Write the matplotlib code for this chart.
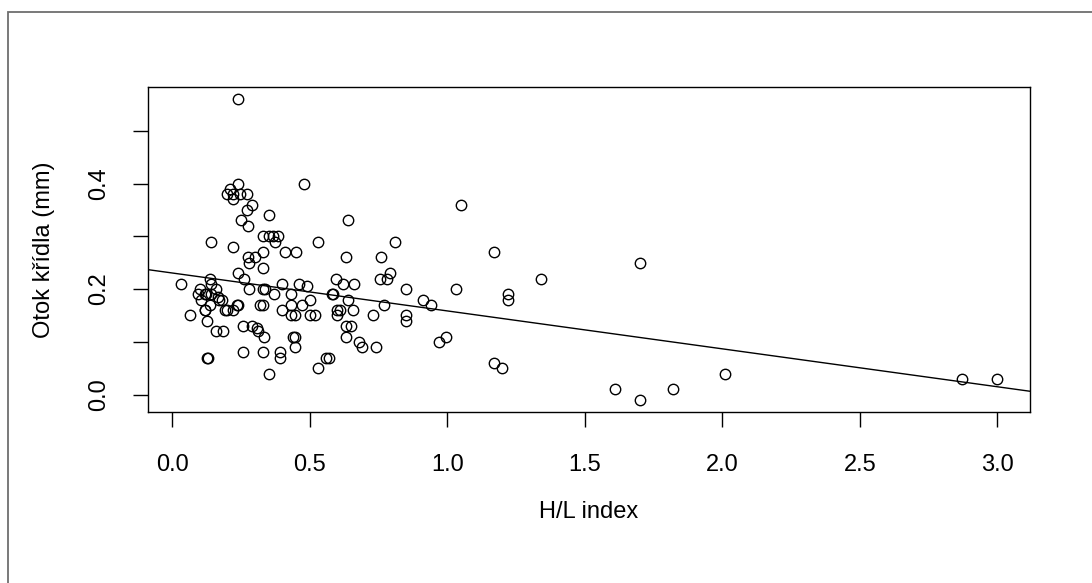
import numpy as np
import matplotlib
matplotlib.use('Agg')
import matplotlib.pyplot as plt
from matplotlib.patches import Rectangle

# H/L index (x) a otok křídla (y)
hl_index = [
    0.24, 0.24, 0.21, 0.48, 0.20, 0.22, 0.245, 0.27, 0.22, 0.29, 0.27,
    0.25, 0.275, 0.35, 0.33, 0.35, 0.366, 0.385, 0.373, 0.14, 0.22, 0.53,
    0.33, 0.41, 0.45, 0.275, 0.30, 0.28, 0.33, 0.24, 0.26,
    0.64, 1.05, 0.81, 0.63, 0.76, 1.17, 0.79, 0.78, 0.755, 0.595, 0.62,
    0.66, 1.34, 0.85, 1.03, 0.585, 0.64, 0.77, 0.91, 0.94, 1.22, 1.22,
    0.60, 0.61, 0.60, 0.655, 0.73, 0.85, 0.85, 0.63, 0.65, 0.63, 0.68,
    0.69, 0.74, 0.97, 0.995, 1.17, 1.20, 0.57,
    1.70, 2.01, 1.61, 1.70, 1.82, 2.87, 3.00,
    0.03, 0.136, 0.14, 0.10, 0.16, 0.123, 0.165, 0.105, 0.18, 0.135, 0.20,
    0.22, 0.235, 0.117, 0.064, 0.124, 0.16, 0.185, 0.124, 0.13,
    0.094, 0.118, 0.14, 0.17, 0.19, 0.12, 0.24,
    0.28, 0.336, 0.255, 0.29, 0.306, 0.31, 0.334, 0.255, 0.33, 0.39, 0.39,
    0.353, 0.44, 0.445, 0.445, 0.53, 0.56,
    0.40, 0.46, 0.49, 0.33, 0.37, 0.43, 0.33, 0.40, 0.43, 0.47, 0.50,
    0.43, 0.445, 0.50, 0.52, 0.32, 0.58,
]
otok = [
    0.56, 0.40, 0.39, 0.40, 0.38, 0.38, 0.38, 0.38, 0.37, 0.36, 0.35,
    0.33, 0.32, 0.34, 0.30, 0.30, 0.30, 0.30, 0.29, 0.29, 0.28, 0.29,
    0.27, 0.27, 0.27, 0.26, 0.26, 0.25, 0.24, 0.23, 0.22,
    0.33, 0.36, 0.29, 0.26, 0.26, 0.27, 0.23, 0.22, 0.22, 0.22, 0.21,
    0.21, 0.22, 0.20, 0.20, 0.19, 0.18, 0.17, 0.18, 0.17, 0.19, 0.18,
    0.16, 0.16, 0.15, 0.16, 0.15, 0.15, 0.14, 0.13, 0.13, 0.11, 0.10,
    0.09, 0.09, 0.10, 0.11, 0.06, 0.05, 0.07,
    0.25, 0.04, 0.01, -0.01, 0.01, 0.03, 0.03,
    0.21, 0.22, 0.21, 0.20, 0.20, 0.19, 0.185, 0.18, 0.18, 0.17, 0.16,
    0.16, 0.17, 0.16, 0.15, 0.14, 0.12, 0.12, 0.07, 0.07,
    0.19, 0.19, 0.19, 0.18, 0.16, 0.16, 0.17,
    0.20, 0.20, 0.13, 0.13, 0.126, 0.12, 0.11, 0.08, 0.08, 0.08, 0.07,
    0.04, 0.11, 0.11, 0.09, 0.05, 0.07,
    0.21, 0.21, 0.205, 0.20, 0.19, 0.19, 0.17, 0.16, 0.17, 0.17, 0.18,
    0.15, 0.15, 0.15, 0.15, 0.17, 0.19,
]

x_ticks = [0.0, 0.5, 1.0, 1.5, 2.0, 2.5, 3.0]
y_ticks = [0.0, 0.1, 0.2, 0.3, 0.4, 0.5]
y_labels = ['0.0', '', '0.2', '', '0.4', '']

plt.rcParams['font.family'] = ['Liberation Sans', 'DejaVu Sans']

fig = plt.figure(figsize=(10.92, 5.83), dpi=100)
ax = fig.add_axes([148 / 1092, 1 - 412 / 583, 882 / 1092, 325 / 583])

x = np.array(hl_index)
y = np.array(otok)

ax.plot(x, y, 'o', mfc='none', mec='black', ms=7.5, mew=1.0, zorder=3)

# regresni primka (jako abline(lm(y ~ x)) v R)
k, q = np.polyfit(x, y, 1)

# rozsah os jako v R (+4 %)
xr = x.max() - x.min()
yr = y.max() - y.min()
xlim = (x.min() - 0.04 * xr, x.max() + 0.04 * xr)
ylim = (y.min() - 0.04 * yr, y.max() + 0.04 * yr)
ax.set_xlim(xlim)
ax.set_ylim(ylim)
xx = np.array(xlim)
ax.plot(xx, q + k * xx, color='black', lw=1.0)

ax.set_xticks(x_ticks)
ax.set_xticklabels(['%.1f' % t for t in x_ticks])
ax.set_yticks(y_ticks)
ax.set_yticklabels(y_labels, rotation=90, va='center')
ax.tick_params(direction='out', length=11, width=1.0, labelsize=17)
ax.tick_params(axis='x', pad=19)
ax.tick_params(axis='y', pad=16)
for s in ax.spines.values():
    s.set_linewidth(1.0)

ax.set_xlabel('H/L index', fontsize=17, labelpad=18)
ax.set_ylabel('Otok křídla (mm)', fontsize=17, labelpad=24)

# sedy ramecek kolem obrazku
fig.patches.append(Rectangle((8 / 1092, -0.1), 1.2, 1.1 - 12 / 583,
                             transform=fig.transFigure, fill=False,
                             edgecolor='#6e6e6e', lw=1.3))

fig.savefig('out.png', dpi=100)
